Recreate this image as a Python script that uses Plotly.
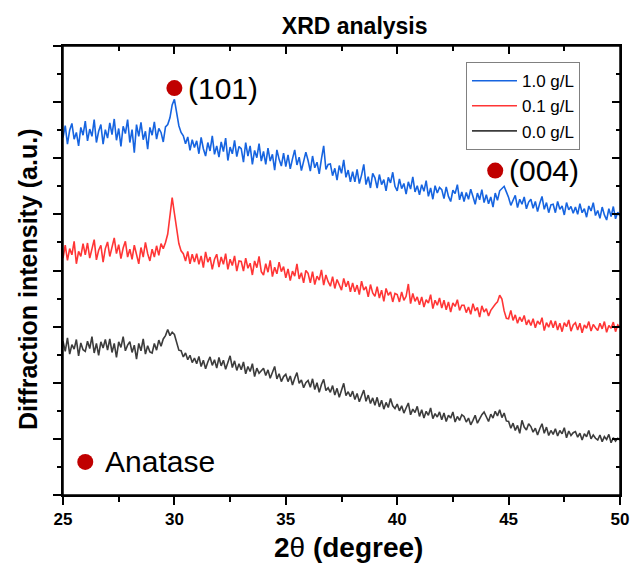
import numpy as np
import plotly.graph_objects as go

# ---------------- data ----------------
TWO_THETA_START = 25.0
TWO_THETA_END = 50.0
N_POINTS = 251  # 0.1 degree sampling
two_theta = np.round(np.linspace(TWO_THETA_START, TWO_THETA_END, N_POINTS), 1)

series_names = ["1.0 g/L", "0.1 g/L", "0.0 g/L"]

intensity_1_0 = [
    6.37, 6.58, 6.25, 6.50, 6.62, 6.34, 6.46, 6.22, 6.55, 6.41,
    6.66, 6.31, 6.52, 6.39, 6.69, 6.28, 6.48, 6.60, 6.25, 6.51,
    6.36, 6.63, 6.42, 6.70, 6.32, 6.53, 6.21, 6.57, 6.44, 6.69,
    6.28, 6.51, 6.10, 6.60, 6.39, 6.64, 6.33, 6.48, 6.16, 6.55,
    6.41, 6.65, 6.34, 6.53, 6.46, 6.29, 6.56, 6.60, 6.72, 6.95,
    7.05, 6.82, 6.58, 6.46, 6.40, 6.26, 6.38, 6.14, 6.33, 6.19,
    6.31, 6.08, 6.37, 6.17, 6.04, 6.28, 6.13, 6.40, 6.07, 6.22,
    6.02, 6.29, 6.12, 6.36, 5.96, 6.20, 6.08, 6.32, 6.03, 6.21,
    6.17, 5.93, 6.28, 6.04, 6.22, 5.89, 6.14, 6.01, 6.26, 5.95,
    6.12, 5.89, 6.18, 5.95, 6.07, 5.79, 6.15, 5.98, 5.86, 6.09,
    5.85, 6.06, 5.81, 5.99, 6.15, 5.88, 6.02, 5.78, 5.96, 6.11,
    5.96, 5.77, 6.04, 5.83, 5.93, 5.72, 5.99, 6.22, 5.80, 5.89,
    5.90, 5.69, 5.82, 5.61, 5.87, 5.73, 5.97, 5.66, 5.79, 5.58,
    5.76, 5.58, 5.80, 5.55, 5.70, 5.89, 5.53, 5.67, 5.47, 5.73,
    5.65, 5.47, 5.71, 5.53, 5.62, 5.42, 5.66, 5.56, 5.75, 5.50,
    5.42, 5.63, 5.46, 5.55, 5.36, 5.58, 5.45, 5.67, 5.40, 5.51,
    5.35, 5.53, 5.41, 5.60, 5.32, 5.47, 5.27, 5.51, 5.38, 5.48,
    5.44, 5.28, 5.49, 5.32, 5.23, 5.43, 5.37, 5.53, 5.26, 5.40,
    5.23, 5.39, 5.27, 5.45, 5.32, 5.18, 5.38, 5.26, 5.44, 5.21,
    5.35, 5.19, 5.31, 5.13, 5.38, 5.25, 5.42, 5.47, 5.50, 5.40,
    5.30, 5.16, 5.24, 5.34, 5.12, 5.27, 5.18, 5.31, 5.10, 5.22,
    5.27, 5.11, 5.23, 5.05, 5.20, 5.32, 5.09, 5.21, 5.03, 5.17,
    5.18, 5.03, 5.23, 5.09, 5.15, 4.99, 5.21, 5.08, 5.14, 5.02,
    5.13, 5.00, 5.19, 5.03, 5.10, 4.95, 5.15, 5.06, 5.21, 4.98,
    5.07, 4.93, 5.13, 4.99, 4.90, 5.10, 4.96, 5.14, 4.92, 5.04,
    4.97,
]

intensity_0_1 = [
    4.22, 4.45, 4.18, 4.39, 4.28, 4.52, 4.12, 4.34, 4.25, 4.48,
    4.28, 4.49, 4.22, 4.40, 4.55, 4.19, 4.36, 4.45, 4.15, 4.39,
    4.51, 4.25, 4.42, 4.58, 4.30, 4.46, 4.21, 4.40, 4.52, 4.24,
    4.38, 4.20, 4.45, 4.29, 4.12, 4.41, 4.24, 4.50, 4.30, 4.17,
    4.38, 4.24, 4.44, 4.27, 4.48, 4.39, 4.50, 4.65, 4.95, 5.30,
    5.02, 4.70, 4.48, 4.35, 4.30, 4.17, 4.34, 4.12, 4.29, 4.15,
    4.30, 4.11, 4.26, 4.05, 4.33, 4.15, 4.24, 4.02, 4.20, 4.29,
    4.06, 4.24, 4.11, 4.30, 4.02, 4.20, 4.09, 4.26, 3.99, 4.17,
    4.16, 3.99, 4.22, 4.04, 4.13, 3.92, 4.17, 4.05, 4.25, 3.98,
    3.92, 4.12, 3.97, 4.18, 3.89, 4.06, 3.94, 4.15, 3.98, 4.07,
    3.87, 4.03, 3.82, 3.99, 3.90, 4.12, 3.85, 3.96, 3.78, 4.00,
    3.95, 3.78, 3.98, 3.75, 3.90, 3.83, 4.01, 3.74, 3.92, 3.80,
    3.72, 3.89, 3.68, 3.84, 3.75, 3.65, 3.86, 3.71, 3.81, 3.62,
    3.78, 3.62, 3.74, 3.57, 3.81, 3.65, 3.71, 3.53, 3.75, 3.60,
    3.54, 3.71, 3.51, 3.65, 3.45, 3.68, 3.56, 3.62, 3.44, 3.59,
    3.57, 3.44, 3.62, 3.47, 3.54, 3.76, 3.41, 3.59, 3.45, 3.53,
    3.39, 3.53, 3.35, 3.48, 3.42, 3.57, 3.32, 3.47, 3.38, 3.51,
    3.33, 3.47, 3.30, 3.44, 3.26, 3.42, 3.36, 3.48, 3.29, 3.38,
    3.38, 3.25, 3.35, 3.22, 3.41, 3.28, 3.34, 3.17, 3.37, 3.26,
    3.32, 3.19, 3.29, 3.35, 3.40, 3.44, 3.56, 3.49, 3.28, 3.15,
    3.14, 3.29, 3.11, 3.21, 3.06, 3.17, 3.09, 3.20, 3.03, 3.12,
    3.02, 3.14, 2.98, 3.10, 3.04, 3.16, 2.93, 3.07, 2.99, 3.11,
    2.98, 3.10, 2.94, 3.06, 2.91, 3.07, 3.00, 3.12, 2.92, 3.03,
    3.07, 2.94, 3.06, 2.89, 3.03, 2.97, 3.09, 2.92, 3.04, 2.98,
    2.93, 3.06, 2.96, 3.09, 2.90, 3.02, 2.97, 3.08, 2.91, 3.03,
    2.99,
]

intensity_0_0 = [
    2.74, 2.56, 2.80, 2.51, 2.68, 2.60, 2.77, 2.48, 2.71, 2.59,
    2.56, 2.74, 2.61, 2.82, 2.53, 2.70, 2.49, 2.73, 2.62, 2.77,
    2.58, 2.78, 2.54, 2.70, 2.45, 2.73, 2.63, 2.82, 2.57, 2.67,
    2.73, 2.54, 2.67, 2.42, 2.70, 2.57, 2.78, 2.51, 2.66, 2.55,
    2.53, 2.70, 2.58, 2.76, 2.65, 2.78, 2.84, 2.95, 2.84, 2.90,
    2.86, 2.72, 2.58, 2.57, 2.46, 2.53, 2.41, 2.49, 2.36, 2.44,
    2.34, 2.47, 2.29, 2.40, 2.25, 2.37, 2.46, 2.31, 2.41, 2.26,
    2.45, 2.30, 2.40, 2.24, 2.36, 2.48, 2.27, 2.39, 2.22, 2.34,
    2.23, 2.37, 2.16, 2.29, 2.20, 2.34, 2.11, 2.26, 2.17, 2.22,
    2.26, 2.13, 2.23, 2.08, 2.19, 2.29, 2.07, 2.16, 2.02, 2.11,
    2.15, 2.02, 2.12, 1.96, 2.08, 2.18, 1.99, 2.05, 1.91, 2.00,
    2.04, 1.92, 2.07, 1.88, 2.00, 1.83, 1.97, 2.06, 1.86, 1.91,
    1.83, 1.95, 1.78, 1.90, 1.74, 1.86, 1.99, 1.77, 1.84, 1.75,
    1.85, 1.70, 1.81, 1.66, 1.76, 1.87, 1.67, 1.78, 1.63, 1.73,
    1.60, 1.74, 1.57, 1.69, 1.53, 1.65, 1.56, 1.72, 1.59, 1.54,
    1.62, 1.50, 1.59, 1.46, 1.55, 1.64, 1.43, 1.53, 1.47, 1.58,
    1.40, 1.52, 1.37, 1.49, 1.42, 1.55, 1.36, 1.45, 1.39, 1.48,
    1.34, 1.46, 1.31, 1.42, 1.37, 1.48, 1.30, 1.40, 1.33, 1.43,
    1.40, 1.30, 1.37, 1.25, 1.33, 1.42, 1.28, 1.36, 1.43, 1.48,
    1.40, 1.31, 1.44, 1.37, 1.49, 1.41, 1.52, 1.38, 1.46, 1.32,
    1.31, 1.19, 1.28, 1.15, 1.24, 1.10, 1.33, 1.21, 1.16, 1.27,
    1.22, 1.12, 1.19, 1.07, 1.18, 1.27, 1.10, 1.21, 1.06, 1.15,
    1.08, 1.18, 1.05, 1.15, 1.09, 1.20, 1.02, 1.14, 1.06, 1.11,
    1.13, 1.03, 1.10, 0.98, 1.09, 1.04, 1.15, 1.00, 1.07, 1.01,
    0.98, 1.07, 0.95, 1.04, 0.99, 1.08, 0.93, 1.02, 0.96, 1.01,
    0.98,
]

# Anatase reflections marked on the chart
peak_labels = ["(101)", "(004)"]
peak_two_theta = [30.0, 44.4]
phase_label = "Anatase"

x_ticks = [25, 30, 35, 40, 45, 50]

# ---------------- styling ----------------
FONT = "Liberation Sans, Arial, Helvetica, sans-serif"
line_colors = ["#1664e0", "#ff3535", "#3c3c3c"]
dot_color = "#c00000"

fig = go.Figure()
for name, y, c in zip(series_names,
                      [intensity_1_0, intensity_0_1, intensity_0_0],
                      line_colors):
    fig.add_trace(go.Scatter(x=two_theta, y=y, mode="lines", name=name,
                             line=dict(color=c, width=1.6)))

# peak markers (placed just above the peaks) + labels
peak_marker_y = [7.25, 5.78]
fig.add_trace(go.Scatter(x=peak_two_theta, y=peak_marker_y, mode="markers",
                         marker=dict(color=dot_color, size=16),
                         showlegend=False, hoverinfo="skip"))
for lab, px, py in zip(peak_labels, peak_two_theta, peak_marker_y):
    fig.add_annotation(x=px, y=py, text=lab, showarrow=False,
                       xanchor="left", yanchor="middle", xshift=12,
                       font=dict(family=FONT, size=30, color="black"))

# phase legend marker
fig.add_trace(go.Scatter(x=[26.0], y=[0.59], mode="markers",
                         marker=dict(color=dot_color, size=16),
                         showlegend=False, hoverinfo="skip"))
fig.add_annotation(x=26.0, y=0.59, text=phase_label, showarrow=False,
                   xanchor="left", yanchor="middle", xshift=18,
                   font=dict(family=FONT, size=30, color="black"))

# axis titles
fig.add_annotation(xref="paper", yref="paper", x=0.512, y=-0.118,
                   text="<b>2</b>θ<b> (degree)</b>", showarrow=False,
                   xanchor="center", yanchor="middle",
                   font=dict(family=FONT, size=28, color="black"))
fig.add_annotation(xref="paper", yref="paper", x=-0.063, y=0.481,
                   text="<b>Diffraction intensity (a.u.)</b>",
                   showarrow=False, textangle=-90,
                   xanchor="center", yanchor="middle",
                   font=dict(family=FONT, size=25, color="black"))

# dummy trace for mirrored (top/right) tick axes
fig.add_trace(go.Scatter(x=[None], y=[None], xaxis="x2", yaxis="y2",
                         showlegend=False, hoverinfo="skip"))

# plot frame
fig.add_shape(type="rect", xref="paper", yref="paper", x0=0, y0=0, x1=1,
              y1=1, line=dict(color="black", width=1.5), layer="above")

axis_common = dict(showline=True, linecolor="black", linewidth=1.5,
                   showgrid=False, zeroline=False, tickcolor="black",
                   tickwidth=1.5, automargin=False)

fig.update_layout(
    width=630, height=563,
    margin=dict(l=63, r=10, t=46, b=68),
    plot_bgcolor="white", paper_bgcolor="white",
    font=dict(family=FONT, color="black"),
    title=dict(text="<b>XRD analysis</b>", x=0.563, xref="container",
               xanchor="center", y=1 - 26 / 563, yref="container",
               yanchor="middle", font=dict(size=23, family=FONT)),
    xaxis=dict(range=[25, 50], tickvals=x_ticks, ticks="outside", ticklen=8,
               mirror=True,
               minor=dict(dtick=2.5, ticks="outside", ticklen=5,
                          tickcolor="black", tickwidth=1.5),
               tickfont=dict(size=17, weight="bold"),
               **axis_common),
    yaxis=dict(range=[0, 8], dtick=1, ticks="outside", ticklen=8,
               showticklabels=False, mirror=True,
               minor=dict(dtick=0.5, ticks="outside", ticklen=4,
                          tickcolor="black", tickwidth=1.5),
               **axis_common),
    xaxis2=dict(range=[25, 50], overlaying="x", side="top", anchor="y2",
                dtick=5, tick0=25, ticks="inside", ticklen=8,
                showticklabels=False,
                minor=dict(dtick=2.5, ticks="inside", ticklen=5,
                           tickcolor="black", tickwidth=1.5),
                **axis_common),
    yaxis2=dict(range=[0, 8], overlaying="y", side="right", anchor="x2",
                dtick=1, ticks="inside", ticklen=8, showticklabels=False,
                minor=dict(dtick=0.5, ticks="inside", ticklen=4,
                           tickcolor="black", tickwidth=1.5),
                **axis_common),
    legend=dict(x=0.7235, y=0.964, xanchor="left", yanchor="top",
                bordercolor="#808080", borderwidth=1, bgcolor="white",
                font=dict(size=17, family=FONT), itemwidth=45,
                tracegroupgap=0),
    showlegend=True,
)

fig.write_html("out.html", config={"displayModeBar": False},
               post_script="document.body.style.margin='0';")
